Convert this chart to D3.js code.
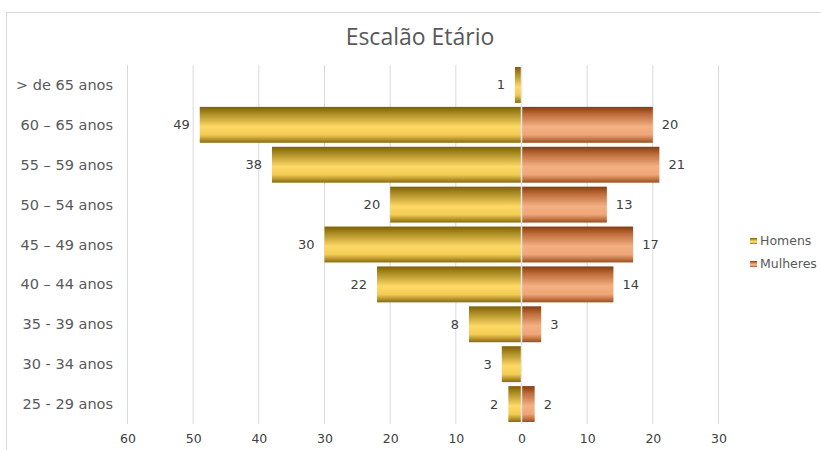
<!DOCTYPE html>
<html>
<head>
<meta charset="utf-8">
<script src="https://cdn.jsdelivr.net/npm/d3@7"></script>
<style>
  body { margin: 0; background: #fff; }
  svg text { font-family: "DejaVu Sans", Verdana, sans-serif; }
</style>
</head>
<body>
<script>
const categories = ['> de 65 anos', '60 – 65 anos', '55 – 59 anos', '50 – 54 anos', '45 – 49 anos',
  '40 – 44 anos', '35 - 39 anos', '30 - 34 anos', '25 - 29 anos'];
const homens = [1, 49, 38, 20, 30, 22, 8, 3, 2];
const mulheres = [0, 20, 21, 13, 17, 14, 3, 0, 2];
const xTicks = [-60, -50, -40, -30, -20, -10, 0, 10, 20, 30];
const seriesNames = ['Homens', 'Mulheres'];

const width = 821, height = 450;

const svg = d3.select('body').append('svg')
  .attr('width', width)
  .attr('height', height);

const defs = svg.append('defs');
function grad(id, stops) {
  const g = defs.append('linearGradient').attr('id', id)
    .attr('x1', 0).attr('y1', 0).attr('x2', 0).attr('y2', 1);
  stops.forEach(s => g.append('stop').attr('offset', s[0]).attr('stop-color', s[1]));
}
grad('gH', [[0, '#7f6000'], [0.18, '#a88a22'], [0.55, '#ffd966'], [0.78, '#f2cc55'], [1, '#8a6a0c']]);
grad('gM', [[0, '#843c0c'], [0.2, '#bd6b39'], [0.55, '#f4b183'], [0.78, '#eea577'], [1, '#9c4f1e']]);

// frame
svg.append('rect')
  .attr('x', 6.5).attr('y', 12.5)
  .attr('width', 830).attr('height', 460)
  .attr('fill', 'none').attr('stroke', '#d9d9d9');

svg.append('text')
  .attr('x', 420).attr('y', 45)
  .attr('text-anchor', 'middle')
  .attr('font-size', 23)
  .style('font-family', '"Open Sans", sans-serif')
  .attr('fill', '#595959')
  .text('Escalão Etário');

const x = d3.scaleLinear().domain([-60, 30]).range([127.5, 718.5]);
const y = d3.scaleBand().domain(categories).range([65, 424]).paddingInner(0.1).paddingOuter(0.05);

// gridlines
svg.append('g').selectAll('line').data(xTicks.filter(d => d !== 0)).join('line')
  .attr('x1', d => x(d)).attr('x2', d => x(d))
  .attr('y1', 65).attr('y2', 424)
  .attr('stroke', '#d9d9d9');

// axis labels
const xAxis = d3.axisBottom(x).tickValues(xTicks).tickFormat(d => Math.abs(d)).tickSize(0).tickPadding(10);
const gx = svg.append('g').attr('transform', 'translate(0,424)').call(xAxis);
gx.select('.domain').remove();
gx.selectAll('text').attr('font-size', 12.5).attr('fill', '#404040')
  .style('font-family', '"DejaVu Sans", sans-serif');

// category labels
svg.append('g').selectAll('text').data(categories).join('text')
  .attr('x', 113)
  .attr('y', d => y(d) + y.bandwidth() / 2)
  .attr('dy', '0.35em')
  .attr('text-anchor', 'end')
  .attr('font-size', 14.5)
  .attr('fill', '#595959')
  .text(d => d);

// bars
svg.append('g').selectAll('rect').data(homens).join('rect')
  .attr('x', d => x(-d))
  .attr('y', (d, i) => y(categories[i]))
  .attr('width', d => x(0) - x(-d))
  .attr('height', y.bandwidth())
  .attr('fill', 'url(#gH)');

svg.append('g').selectAll('rect').data(mulheres).join('rect')
  .attr('x', x(0))
  .attr('y', (d, i) => y(categories[i]))
  .attr('width', d => x(d) - x(0))
  .attr('height', y.bandwidth())
  .attr('fill', 'url(#gM)');

// zero line over bars
svg.append('line')
  .attr('x1', x(0)).attr('x2', x(0))
  .attr('y1', 65).attr('y2', 424)
  .attr('stroke', '#e6e6e6').attr('stroke-width', 1.5);

// value labels
svg.append('g').selectAll('text').data(homens).join('text')
  .attr('x', d => x(-d) - 10)
  .attr('y', (d, i) => y(categories[i]) + y.bandwidth() / 2)
  .attr('dy', '0.35em')
  .attr('text-anchor', 'end')
  .attr('font-size', 13)
  .attr('fill', '#404040')
  .text(d => d > 0 ? d : '');

svg.append('g').selectAll('text').data(mulheres).join('text')
  .attr('x', d => x(d) + 9)
  .attr('y', (d, i) => y(categories[i]) + y.bandwidth() / 2)
  .attr('dy', '0.35em')
  .attr('font-size', 13)
  .attr('fill', '#404040')
  .text(d => d > 0 ? d : '');

// legend
const lg = svg.append('g').attr('transform', 'translate(750,241)');
seriesNames.forEach((name, i) => {
  lg.append('rect')
    .attr('x', 0).attr('y', i * 23 - 3)
    .attr('width', 7).attr('height', 6)
    .attr('fill', i === 0 ? 'url(#gH)' : 'url(#gM)');
  lg.append('text')
    .attr('x', 10).attr('y', i * 23)
    .attr('dy', '0.35em')
    .attr('font-size', 12.5)
    .attr('fill', '#595959')
    .text(name);
});
</script>
</body>
</html>
